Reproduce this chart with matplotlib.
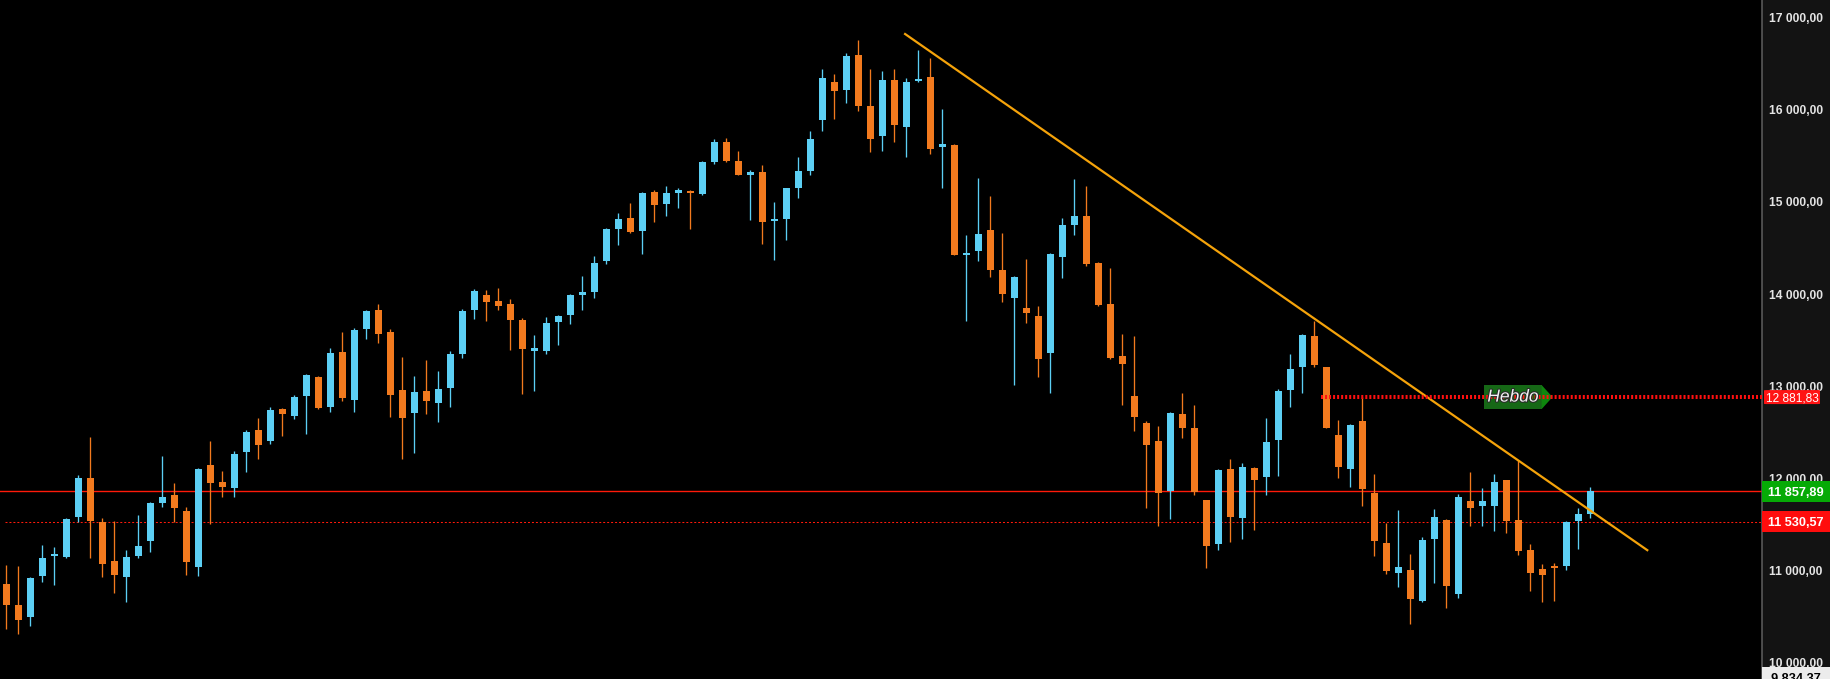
import matplotlib
matplotlib.use('Agg')
import matplotlib.pyplot as plt
import matplotlib.patheffects as pe
from matplotlib.patches import Rectangle, FancyBboxPatch, Polygon
from matplotlib.transforms import blended_transform_factory
import numpy as np

# --- weekly candles ---
opens = [10856, 10628, 10498, 10942, 11155, 11148, 11582, 12005, 11528, 11105,
         10932, 11160, 11322, 11734, 11821, 11647, 11040, 12146, 11962, 11897,
         12287, 12526, 12407, 12754, 12678, 12895, 13101, 12776, 13372, 12852,
         13622, 13828, 13589, 12960, 12711, 12949, 12819, 12982, 13350, 13828,
         13990, 13925, 13893, 13719, 13383, 13383, 13698, 13773, 13990, 14023,
         14359, 14706, 14825, 14684, 15107, 14977, 15097, 15118, 15086, 15433,
         15650, 15444, 15292, 15324, 14793, 14815, 15151, 15335, 15888, 16300,
         16214, 16593, 16040, 15715, 16322, 15812, 16311, 16355, 15596, 15617,
         14424, 14468, 14696, 14262, 13958, 13850, 13763, 13362, 14403, 14749,
         14847, 14337, 13893, 13329, 12895, 12602, 12407, 11865, 12700, 12548,
         11767, 11290, 12103, 11572, 12114, 12016, 12418, 12960, 13209, 13546,
         13209, 12472, 12103, 12624, 11843, 11301, 10975, 11008, 10672, 11344,
         11550, 10748, 11756, 11702, 11702, 11984, 11550, 11225, 11019, 11040,
         11051, 11539, 11615]
highs = [11062, 11051, 10931, 11278, 11257, 11571, 12038, 12450, 11571, 11539,
         11225, 11604, 11745, 12244, 11951, 11691, 12114, 12407, 12081, 12298,
         12526, 12656, 12775, 12765, 12906, 13134, 13110, 13416, 13589, 13632,
         13828, 13893, 13622, 13318, 13112, 13285, 13166, 13383, 13839, 14055,
         14044, 14066, 13947, 13741, 13556, 13752, 13773, 14001, 14196, 14413,
         14717, 14880, 14988, 15107, 15129, 15172, 15151, 15129, 15444, 15682,
         15693, 15552, 15346, 15400, 14999, 15151, 15487, 15769, 16441, 16387,
         16615, 16756, 16441, 16420, 16442, 16344, 16648, 16561, 16008, 15628,
         14641, 15259, 15064, 14663, 14197, 14381, 13871, 14446, 14826, 15248,
         15172, 14348, 14283, 13567, 13546, 12624, 12570, 12722, 12927, 12797,
         11770, 12103, 12212, 12168, 12120, 12656, 12971, 13350, 13567, 13708,
         13209, 12635, 12591, 12884, 12049, 11518, 11659, 11181, 11366, 11669,
         11561, 11832, 12071, 11897, 12049, 11984, 12201, 11290, 11073, 11084,
         11539, 11680, 11908]
lows = [10368, 10313, 10400, 10877, 10845, 11140, 11528, 11138, 10932, 10758,
        10661, 11138, 11203, 11691, 11528, 10953, 10943, 11507, 11799, 11799,
        12070, 12211, 12374, 12461, 12645, 12483, 12754, 12721, 12841, 12721,
        13513, 13470, 12667, 12212, 12277, 12700, 12613, 12776, 13307, 13730,
        13708, 13828, 13394, 12917, 12949, 13350, 13448, 13676, 13828, 13958,
        14327, 14533, 14663, 14435, 14782, 14847, 14934, 14706, 15075, 15411,
        15433, 15292, 14804, 14544, 14370, 14587, 15043, 15292, 15769, 15899,
        16073, 15986, 15541, 15552, 15650, 15487, 16300, 15520, 15151, 14424,
        13709, 14359, 14186, 13915, 13015, 13687, 13101, 12928, 14175, 14641,
        14305, 13871, 13296, 12797, 12515, 11680, 11485, 11561, 12439, 11821,
        11030, 11225, 11312, 11344, 11442, 11821, 12027, 12776, 12927, 13209,
        12548, 12005, 11908, 11702, 11160, 10965, 10823, 10422, 10661, 10867,
        10596, 10704, 11485, 11485, 11431, 11409, 11171, 10780, 10661, 10672,
        11008, 11236, 11572]
closes = [10628, 10465, 10921, 11137, 11160, 11561, 12005, 11539, 11073, 10953,
          11148, 11268, 11734, 11799, 11680, 11094, 12103, 11951, 11908, 12266,
          12504, 12363, 12743, 12700, 12884, 13123, 12765, 13361, 12873, 13611,
          13817, 13567, 12906, 12656, 12938, 12841, 12971, 13350, 13817, 14034,
          13914, 13871, 13719, 13405, 13416, 13687, 13763, 13990, 14023, 14337,
          14706, 14815, 14674, 15097, 14967, 15097, 15129, 15097, 15433, 15650,
          15444, 15292, 15324, 14782, 14815, 15151, 15335, 15682, 16344, 16203,
          16582, 16040, 15682, 16322, 15834, 16300, 16333, 15574, 15628, 14424,
          14446, 14652, 14262, 14001, 14186, 13795, 13297, 14435, 14750, 14847,
          14326, 13882, 13307, 13242, 12667, 12364, 11836, 12711, 12548, 11854,
          11268, 12092, 11583, 12125, 11984, 12396, 12949, 13188, 13556, 13231,
          12548, 12125, 12580, 11886, 11322, 10997, 11040, 10693, 11333, 11583,
          10834, 11800, 11680, 11756, 11962, 11539, 11214, 10975, 10954, 11030,
          11528, 11615, 11858]

tick_values = [10000, 11000, 12000, 13000, 14000, 15000, 16000, 17000]

last_price = 11857.89
prev_close = 11530.57
weekly_level = 12881.83
low_mark = 9834.37
weekly_start = 109.6

trend_x = [74.9, 136.75]
trend_y = [16821, 11221]

UP = '#5ccff4'
DOWN = '#f27a1e'


def fr(v):
    return f"{v:,.2f}".replace(',', ' ').replace('.', ',')


W, H = 1830, 679
PANEL = 1762
fig = plt.figure(figsize=(W / 100, H / 100), dpi=100, facecolor='#131313')
ax = fig.add_axes([0, 0, PANEL / W, 1])
ax.set_facecolor('black')

n = len(opens)
x = np.arange(n)
o = np.array(opens, float)
c = np.array(closes, float)
cols = [UP if cc >= oo else DOWN for oo, cc in zip(o, c)]
bottom = np.minimum(o, c)
height = np.maximum(np.abs(c - o), 22)

ax.vlines(x, lows, highs, colors=cols, lw=0.95, zorder=2)
ax.bar(x, height, width=0.58, bottom=bottom, color=cols, linewidth=0, zorder=3)

# horizontal levels
ax.axhline(last_price, color='#ff1a0a', lw=1.0, zorder=1.8)
ax.plot([-0.1, 146.4], [prev_close, prev_close], color='#ff1a0a', lw=0.75,
        ls=(0, (1.9, 1.9)), zorder=1.8)
ax.plot([weekly_start, 146.4], [weekly_level, weekly_level], color='#ff1010',
        lw=2.9, ls=(0, (0.5, 0.5)), dash_capstyle='butt', zorder=6)

# trend line
ax.plot(trend_x, trend_y, color='#f5a30a', lw=1.6, zorder=4)

# "Hebdo" tag
hx0, hx1, htip = 123.14, 127.95, 128.85
hh = 130
ax.add_patch(Rectangle((hx0, weekly_level - hh), hx1 - hx0, 2 * hh,
                       facecolor='#166816', edgecolor='none', zorder=5))
ax.add_patch(Polygon([(hx1, weekly_level - hh), (hx1, weekly_level + hh),
                      (htip, weekly_level)], closed=True,
                     facecolor='#0d870d', edgecolor='none', zorder=5))
ax.text(125.55, weekly_level, 'Hebdo', color='#f2f2f2', fontsize=12.5,
        style='italic', family='Liberation Sans', ha='center', va='center',
        zorder=7, path_effects=[pe.withStroke(linewidth=1.5, foreground='#2a2a2a')])

ax.set_xlim(-0.525, 146.31)
ax.set_ylim(9823.2, 17189.9)

for s in ['left', 'top', 'bottom']:
    ax.spines[s].set_visible(False)
ax.spines['right'].set_color('#5f5f5f')
ax.spines['right'].set_linewidth(1.1)

ax.set_xticks([])
ax.yaxis.tick_right()
ax.set_yticks(tick_values)
ax.set_yticklabels([fr(v) for v in tick_values], fontweight='bold',
                   family='Liberation Sans')
ax.tick_params(axis='y', length=0, pad=5, labelsize=8.7, colors='#e4e4e4')

# price tags on the scale
k = (ax.get_ylim()[1] - ax.get_ylim()[0]) / H
tr = blended_transform_factory(fig.transFigure, ax.transData)


def tag(price, fc, tc, h_px, x0=PANEL, x1=W, size=9, bold=True, rounded=False):
    hgt = h_px * k
    if rounded:
        p = FancyBboxPatch((x0 / W, price - hgt / 2), (x1 - x0) / W, hgt,
                           boxstyle='round,pad=0,rounding_size=0.0015',
                           mutation_aspect=hgt / ((x1 - x0) / W) * 0.5,
                           facecolor=fc, edgecolor='none', transform=tr,
                           clip_on=False, zorder=8)
    else:
        p = Rectangle((x0 / W, price - hgt / 2), (x1 - x0) / W, hgt,
                      facecolor=fc, edgecolor='none', transform=tr,
                      clip_on=False, zorder=8)
    ax.add_patch(p)
    ax.text((x0 + x1) / 2 / W, price, fr(price), transform=tr, color=tc,
            fontsize=size, fontweight='bold' if bold else 'normal',
            family='Liberation Sans', ha='center', va='center_baseline',
            clip_on=False, zorder=9)


tag(weekly_level, '#ff1414', 'white', 14, x0=1764, x1=1820, size=8.6, bold=False,
    rounded=True)
tag(last_price, '#06aa06', 'white', 21.5, size=9.2)
tag(prev_close, '#ff0d0d', 'white', 21.5, size=9.2)
tag(low_mark, '#ececec', 'black', 22, size=9.2)

fig.savefig('out.png', dpi=100, facecolor=fig.get_facecolor())
